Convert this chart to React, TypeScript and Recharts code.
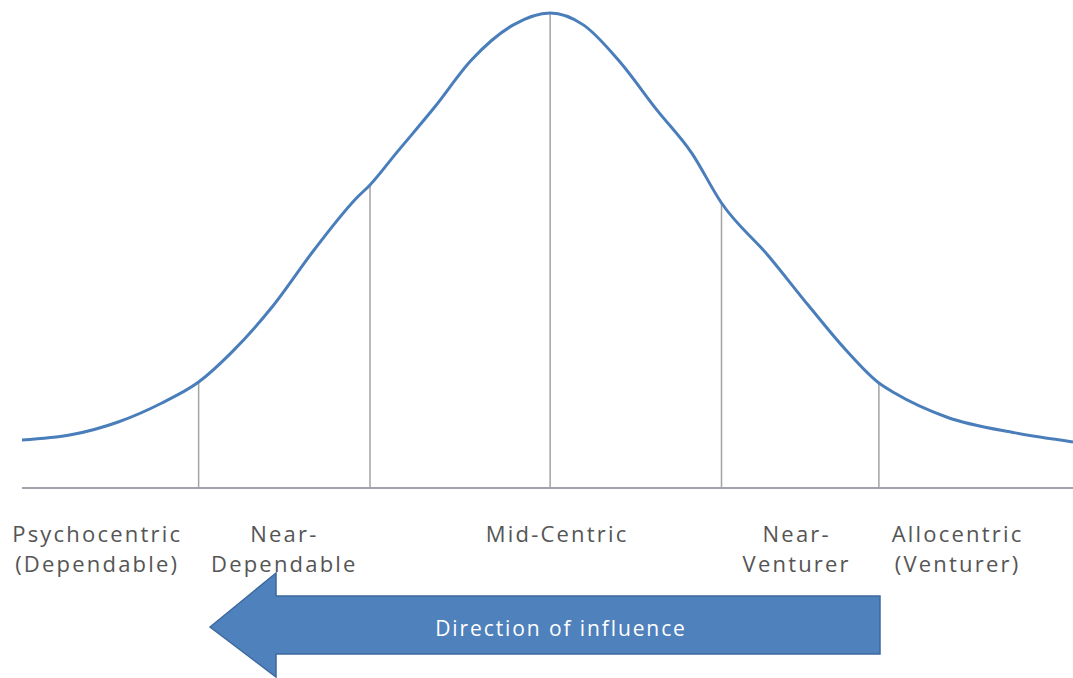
import { LineChart, Line, XAxis, YAxis, ReferenceLine } from 'recharts'

// curve, in standard-deviation units (x) and % of peak height (y)
const curveX = [-3.02, -2.74, -2.47, -2.22, -2.01, -1.82, -1.59, -1.35, -1.1, -1.03, -0.88, -0.66, -0.45, -0.21, 0, 0.19, 0.39, 0.61, 0.81, 0.98, 1.25, 1.48, 1.69, 1.88, 1.97, 2.27, 2.66, 2.99]
const curveY = [10.1, 11.2, 13.9, 17.9, 22.3, 28.6, 38.1, 50.1, 61.3, 63.8, 70.5, 80.2, 90.1, 97.5, 100, 97.5, 90.1, 79.6, 70.5, 60.0, 48.8, 38.3, 29.1, 22.1, 20.0, 14.9, 11.6, 9.7]

// segment dividers
const dividerX = [-2.01, -1.03, 0, 0.98, 1.88]

// segment labels
const segmentX = [-2.59, -1.52, 0.04, 1.41, 2.33]
const segmentLabels = [
  ['Psychocentric', '(Dependable)'],
  ['Near-', 'Dependable'],
  ['Mid-Centric'],
  ['Near-', 'Venturer'],
  ['Allocentric', '(Venturer)'],
]

const arrowText = 'Direction of influence'

const data = curveX.map((x, i) => ({ x, y: curveY[i] }))

const heightAt = (x: number) => {
  const i = curveX.indexOf(x)
  return i >= 0 ? curveY[i] : 0
}

const FONT = '"Open Sans", sans-serif'

function SegmentTick(props: any) {
  const { x, y, payload } = props
  const idx = segmentX.indexOf(payload.value)
  const lines = segmentLabels[idx] || []
  return (
    <text x={x} y={y} textAnchor="middle" fill="#555555" fontFamily={FONT} fontSize={22} letterSpacing={2.2}>
      {lines.map((l, i) => (
        <tspan key={i} x={x} y={y + 54 + i * 30}>{l}</tspan>
      ))}
    </text>
  )
}

export default function App() {
  return (
    <div style={{ position: 'absolute', left: 0, top: 0, width: 1073, height: 678, background: '#fff' }}>
      <LineChart width={1073} height={678} data={data} margin={{ top: 13, right: 0, left: 22, bottom: 90 }}>
        <XAxis
          type="number"
          dataKey="x"
          domain={[-3.02, 2.99]}
          ticks={segmentX}
          tick={<SegmentTick />}
          tickLine={false}
          tickSize={0}
          tickMargin={0}
          height={100}
          axisLine={{ stroke: '#a0a4aa', strokeWidth: 2 }}
          interval={0}
          allowDataOverflow
        />
        <YAxis hide domain={[0, 100]} />
        {dividerX.map(d => (
          <ReferenceLine
            key={d}
            segment={[{ x: d, y: 0 }, { x: d, y: heightAt(d) }]}
            stroke="#a3a3a3"
            strokeWidth={1.5}
          />
        ))}
        <Line
          type="monotone"
          dataKey="y"
          stroke="#4a7ebb"
          strokeWidth={3}
          dot={false}
          isAnimationActive={false}
        />
      </LineChart>
      <svg width={1073} height={678} style={{ position: 'absolute', left: 0, top: 0, pointerEvents: 'none' }}>
        <polygon
          points="210,627 276,573 276,596 880,596 880,654 276,654 276,677"
          fill="#4f81bd"
          stroke="#3d6a9e"
          strokeWidth={1.5}
        />
        <text x={561} y={636} textAnchor="middle" fill="#fff" fontFamily={FONT} fontSize={21} letterSpacing={1.9}>
          {arrowText}
        </text>
      </svg>
    </div>
  )
}
